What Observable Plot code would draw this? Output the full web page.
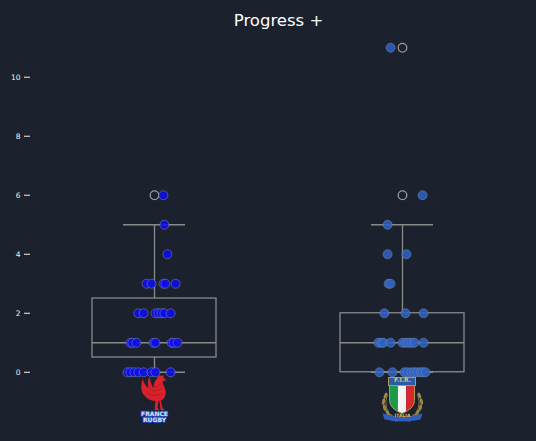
<!DOCTYPE html>
<html>
<head>
<meta charset="utf-8">
<script src="https://cdn.jsdelivr.net/npm/d3@7"></script>
<script src="https://cdn.jsdelivr.net/npm/@observablehq/plot@0.6"></script>
<style>
  html, body { margin: 0; padding: 0; background: #1c212e; }
  #chart { width: 536px; height: 441px; }
</style>
</head>
<body>
<div id="chart"></div>
<script>
// ---- data ----
const teams = ["France", "Italy"];
const teamColors = ["#0c0cf0", "#2d62c8"];
const title = "Progress +";
const yTicks = [0, 2, 4, 6, 8, 10];

const franceValues = [6, 5, 4, 3, 3, 3, 3, 3, 2, 2, 2, 2, 2, 2, 2, 1, 1, 1, 1, 1, 1, 1, 1, 0, 0, 0, 0, 0, 0, 0, 0];
const franceJitter = [0.036, 0.040, 0.052,
  -0.032, -0.012, 0.036, 0.044, 0.085,
  -0.065, -0.044, 0.004, 0.016, 0.028, 0.040, 0.065,
  -0.097, -0.089, -0.073, -0.004, 0.004, 0.069, 0.077, 0.093,
  -0.109, -0.097, -0.081, -0.065, -0.044, -0.012, 0.004, 0.065];

const italyValues = [11, 6, 5, 4, 4, 3, 3, 2, 2, 2, 1, 1, 1, 1, 1, 1, 1, 1, 1, 1, 0, 0, 0, 0, 0, 0, 0, 0, 0, 0];
const italyJitter = [-0.048, 0.081, -0.060,
  -0.060, 0.016,
  -0.056, -0.048,
  -0.073, 0.012, 0.085,
  -0.097, -0.085, -0.077, -0.048, 0, 0.012, 0.024, 0.036, 0.048, 0.085,
  -0.093, -0.040, 0.008, 0.020, 0.036, 0.048, 0.060, 0.073, 0.081, 0.093];

// ---- derived tables ----
const points = [
  ...franceValues.map((v, i) => ({team: 0, value: v, jitter: franceJitter[i]})),
  ...italyValues.map((v, i) => ({team: 1, value: v, jitter: italyJitter[i]}))
];

function boxStats(values, team) {
  const s = values.slice().sort(d3.ascending);
  const q1 = d3.quantileSorted(s, 0.25), med = d3.quantileSorted(s, 0.5), q3 = d3.quantileSorted(s, 0.75);
  const iqr = q3 - q1;
  const lo = d3.min(s.filter(v => v >= q1 - 1.5 * iqr));
  const hi = d3.max(s.filter(v => v <= q3 + 1.5 * iqr));
  const outliers = s.filter(v => v < lo || v > hi).map(v => ({team, value: v}));
  return {team, q1, med, q3, lo, hi, outliers};
}
const stats = [boxStats(franceValues, 0), boxStats(italyValues, 1)];
const outliers = stats.flatMap(d => d.outliers);

// ---- logo pictures ----
const roosterSvg = `<svg xmlns="http://www.w3.org/2000/svg" viewBox="0 0 28 36" width="28" height="36">
<path fill="#d8222b" d="M17,3 C17,1 19,0 21,1 C22,0 24,1 23,3 L26,5 L23,6 L22,8 C24,12 26,16 25,20 C24,24 21,26 18,26 L17,33 L19,35 L14,35 L15,26 C10,26 5,23 2,18 C0,14 1,8 2,4 C4,9 6,12 8,13 C7,9 7,5 9,2 C10,7 11,11 13,13 C13,9 14,6 17,3 Z"/>
<path fill="#d8222b" d="M20,25 L22,33 L24,35 L20,35 L19,26 Z"/>
<path fill="none" stroke="#a0141c" stroke-width="0.6" d="M6,17 C10,21 16,22 21,18 M9,13 C12,17 17,17 21,13 M12,10 C15,13 18,12 20,9"/>
</svg>`;

function leaves(side) {
  const pts = [[6,20,-70],[4,26,-80],[5,32,-100],[8,37,-120],[12,41,-140],[16,44,-160]];
  return pts.map(([x, y, a]) => {
    const xx = side < 0 ? x : 46 - x;
    const aa = side < 0 ? a : 180 - a;
    return `<ellipse cx="${xx}" cy="${y}" rx="3.2" ry="1.5" transform="rotate(${aa} ${xx} ${y})" fill="#9a8848"/>`;
  }).join("");
}
const shieldSvg = `<svg xmlns="http://www.w3.org/2000/svg" viewBox="0 0 46 50" width="46" height="50">
<defs><clipPath id="c"><path d="M10,10 H35 V25 Q35,33 22.5,38 Q10,33 10,25 Z"/></clipPath></defs>
${leaves(-1)}${leaves(1)}
<path d="M8,19 Q2,32 16,46 M38,19 Q44,32 30,46" fill="none" stroke="#8a7a3e" stroke-width="1"/>
<rect x="9" y="2" width="27" height="8" fill="#2a5aa8" stroke="#b09a50" stroke-width="1"/>
<g clip-path="url(#c)">
<rect x="10" y="10" width="8.4" height="30" fill="#1c9a48"/>
<rect x="18.4" y="10" width="8.3" height="30" fill="#f4f4f4"/>
<rect x="26.7" y="10" width="8.4" height="30" fill="#d8262e"/>
</g>
<path d="M10,10 H35 V25 Q35,33 22.5,38 Q10,33 10,25 Z" fill="none" stroke="#b09a50" stroke-width="1"/>
<path d="M3,38 L12,40 Q23,43 34,40 L43,38 L41,44 Q23,48 5,44 Z" fill="#2f5fb8"/>
</svg>`;
const svgURI = s => "data:image/svg+xml," + encodeURIComponent(s);
const logos = [
  {team: 0, src: svgURI(roosterSvg)},
  {team: 1, src: svgURI(shieldSvg)}
];

const boxColor = "#8a8a8a";
const chart = Plot.plot({
  width: 536,
  height: 441,
  marginTop: 31,
  marginBottom: 53,
  marginLeft: 30,
  marginRight: 10,
  style: {background: "#1c212e", color: "#f2f2f2", fontFamily: "DejaVu Sans", fontSize: "7.5px"},
  x: {domain: [-0.5, 1.5], axis: null},
  y: {domain: [-0.55, 11.55], ticks: yTicks, tickSize: 6, tickPadding: 4, label: null},
  marks: [
    Plot.rect(stats, {x1: d => d.team - 0.25, x2: d => d.team + 0.25, y1: "q1", y2: "q3", fill: "none", stroke: boxColor, strokeWidth: 1.3}),
    Plot.ruleY(stats, {y: "med", x1: d => d.team - 0.25, x2: d => d.team + 0.25, stroke: boxColor, strokeWidth: 1.3}),
    Plot.ruleX(stats, {x: "team", y1: "q3", y2: "hi", stroke: boxColor, strokeWidth: 1.3}),
    Plot.ruleX(stats, {x: "team", y1: "lo", y2: "q1", stroke: boxColor, strokeWidth: 1.3}),
    Plot.ruleY(stats, {y: "hi", x1: d => d.team - 0.125, x2: d => d.team + 0.125, stroke: boxColor, strokeWidth: 1.3}),
    Plot.ruleY(stats, {y: "lo", x1: d => d.team - 0.125, x2: d => d.team + 0.125, stroke: boxColor, strokeWidth: 1.3}),
    Plot.dot(outliers, {x: "team", y: "value", r: 4.3, fill: "none", stroke: "#9a9a9a", strokeWidth: 1.3}),
    Plot.dot(points, {x: d => d.team + d.jitter, y: "value", r: 4.5, fill: d => teamColors[d.team], fillOpacity: 0.85, stroke: "#7888aa", strokeWidth: 0.7, strokeOpacity: 0.8}),
    Plot.image(logos.slice(0, 1), {x: "team", frameAnchor: "bottom", dy: 4.5, width: 28, height: 36, src: "src"}),
    Plot.image(logos.slice(1), {x: "team", frameAnchor: "bottom", dy: 12, width: 46, height: 50, src: "src"}),
    Plot.text(["FRANCE"], {x: () => 0, frameAnchor: "bottom", dy: 27, fontSize: 6, fontWeight: "bold", fill: "#d8e0ff", stroke: "#2a50c0", strokeWidth: 1.6}),
    Plot.text(["RUGBY"], {x: () => 0, frameAnchor: "bottom", dy: 33, fontSize: 6, fontWeight: "bold", fill: "#d8e0ff", stroke: "#2a50c0", strokeWidth: 1.6}),
    Plot.text(["F.I.R."], {x: () => 1, frameAnchor: "bottom", dy: -7, fontSize: 6, fontWeight: "bold", fill: "#d8c070"}),
    Plot.text(["ITALIA"], {x: () => 1, frameAnchor: "bottom", dy: 28.5, fontSize: 4.5, fontWeight: "bold", fill: "#d8c070"}),
    Plot.text([title], {frameAnchor: "top", dy: -17, fontSize: 16.5, fill: "white"})
  ]
});
document.getElementById("chart").appendChild(chart);
</script>
</body>
</html>
